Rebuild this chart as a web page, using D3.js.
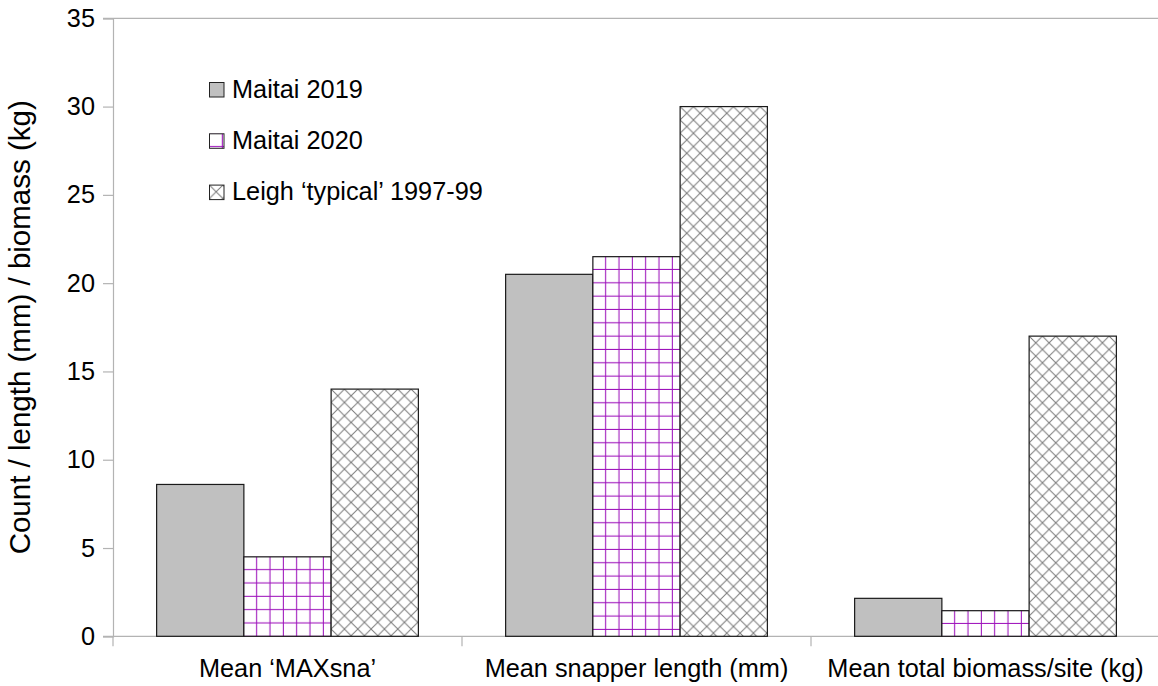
<!DOCTYPE html>
<html>
<head>
<meta charset="utf-8">
<script src="https://cdn.jsdelivr.net/npm/d3@7"></script>
<style>
  html, body { margin: 0; padding: 0; background: #fff; }
  svg { display: block; font-family: "Liberation Sans", Arial, sans-serif; }
</style>
</head>
<body>
<svg id="chart" width="1158" height="686"></svg>
<script>
// ---- data ----
const categories = ["Mean \u2018MAXsna\u2019", "Mean snapper length (mm)", "Mean total biomass/site (kg)"];
const seriesNames = ["Maitai 2019", "Maitai 2020", "Leigh \u2018typical\u2019 1997-99"];
const maitai2019 = [8.6, 20.5, 2.15];
const maitai2020 = [4.5, 21.5, 1.45];
const leighTypical = [14, 30, 17];
const yTicks = [0, 5, 10, 15, 20, 25, 30, 35];
const yTitle = "Count / length (mm) / biomass (kg)";

const seriesValues = [maitai2019, maitai2020, leighTypical];

(function () {
// ---- layout ----
const W = 1158, H = 686;
const mLeft = 113, mRight = 1160, mTop = 18.3, mBottom = 636.3;
const axisColor = "#b3b3b3";
const P = 13.33; // pattern period
const FS = 25.3;

const svg = d3.select("#chart");
const defs = svg.append("defs");

const x0 = d3.scaleBand().domain(categories).range([mLeft, mRight]).paddingInner(0).paddingOuter(0);
const x1 = d3.scaleBand().domain(seriesNames).range([0, x0.bandwidth()]).paddingInner(0).paddingOuter(0.5);
const y = d3.scaleLinear().domain([0, 35]).range([mBottom, mTop]);

// pattern makers
let pid = 0;
function gridPattern(ox, oy) {
  const id = "grid" + (pid++);
  const p = defs.append("pattern").attr("id", id).attr("patternUnits", "userSpaceOnUse")
    .attr("x", ox).attr("y", oy).attr("width", P).attr("height", P);
  p.append("rect").attr("width", P).attr("height", P).attr("fill", "#fff");
  p.append("line").attr("x1", P - 0.5).attr("x2", P - 0.5).attr("y1", 0).attr("y2", P)
    .attr("stroke", "#9d12bb").attr("stroke-width", 1.1);
  p.append("line").attr("x1", 0).attr("x2", P).attr("y1", P - 0.5).attr("y2", P - 0.5)
    .attr("stroke", "#9d12bb").attr("stroke-width", 1.1);
  return "url(#" + id + ")";
}
function crossPattern(ox, oy) {
  const id = "cross" + (pid++);
  const p = defs.append("pattern").attr("id", id).attr("patternUnits", "userSpaceOnUse")
    .attr("x", ox).attr("y", oy).attr("width", P).attr("height", P);
  p.append("rect").attr("width", P).attr("height", P).attr("fill", "#fff");
  p.append("path").attr("d", `M0,0L${P},${P}M${P},0L0,${P}M-1,-1L1,1M${P-1},${P+1}L${P+1},${P-1}`)
    .attr("stroke", "#7a7a7a").attr("stroke-width", 1).attr("fill", "none");
  return "url(#" + id + ")";
}
function fillFor(si, bx, by) {
  if (si === 0) return "#c0c0c0";
  if (si === 1) return gridPattern(bx, by);
  return crossPattern(bx, by);
}

// ---- axes ----
svg.append("line").attr("x1", mLeft - 10).attr("x2", W).attr("y1", mTop).attr("y2", mTop)
  .attr("stroke", axisColor).attr("stroke-width", 1.2);

const yAxis = svg.append("g").attr("transform", `translate(${mLeft},0)`)
  .call(d3.axisLeft(y).tickValues(yTicks).tickSize(10).tickPadding(8).tickFormat(d3.format("d")));
yAxis.select(".domain").attr("stroke", axisColor).attr("stroke-width", 1.2);
yAxis.selectAll(".tick line").attr("stroke", axisColor).attr("stroke-width", 1.2);
yAxis.selectAll(".tick text").attr("font-size", FS).attr("fill", "#000")
  .attr("font-family", "Liberation Sans, Arial, sans-serif");

svg.append("line").attr("x1", mLeft - 10).attr("x2", W).attr("y1", mBottom).attr("y2", mBottom)
  .attr("stroke", axisColor).attr("stroke-width", 1.2);
svg.selectAll(".xtick").data(categories).join("line").attr("class", "xtick")
  .attr("x1", d => x0(d)).attr("x2", d => x0(d)).attr("y1", mBottom).attr("y2", mBottom + 10)
  .attr("stroke", axisColor).attr("stroke-width", 1.2);
svg.selectAll(".xlabel").data(categories).join("text").attr("class", "xlabel")
  .attr("x", d => x0(d) + x0.bandwidth() / 2).attr("y", 676.5)
  .attr("text-anchor", "middle").attr("font-size", FS).attr("fill", "#000").text(d => d);

svg.append("text").attr("transform", `translate(30,${(mTop + mBottom) / 2}) rotate(-90)`)
  .attr("text-anchor", "middle").attr("font-size", 29.5).attr("fill", "#000").text(yTitle);

// ---- bars ----
const barData = [];
categories.forEach((c, ci) => {
  seriesNames.forEach((s, si) => {
    barData.push({ c, s, si, v: seriesValues[si][ci] });
  });
});
svg.append("g").selectAll("rect").data(barData).join("rect")
  .attr("x", d => x0(d.c) + x1(d.s))
  .attr("y", d => y(d.v))
  .attr("width", x1.bandwidth())
  .attr("height", d => y(0) - y(d.v))
  .attr("fill", d => fillFor(d.si, x0(d.c) + x1(d.s), y(d.v)))
  .attr("stroke", "#1a1a1a").attr("stroke-width", 1.2);

// ---- legend ----
const legY0 = 82.5, legStep = 51.3, legX = 209.5;
const LS = 14.5;
const leg = svg.append("g");
seriesNames.forEach((s, i) => {
  const sy = legY0 + i * legStep;
  leg.append("rect").attr("x", legX).attr("y", sy).attr("width", LS).attr("height", LS)
    .attr("fill", fillFor(i, legX, sy)).attr("stroke", "#222").attr("stroke-width", 1);
  leg.append("text").attr("x", 232).attr("y", sy + 15.2).attr("font-size", FS)
    .attr("fill", "#000").text(s);
});
})();
</script>
</body>
</html>
